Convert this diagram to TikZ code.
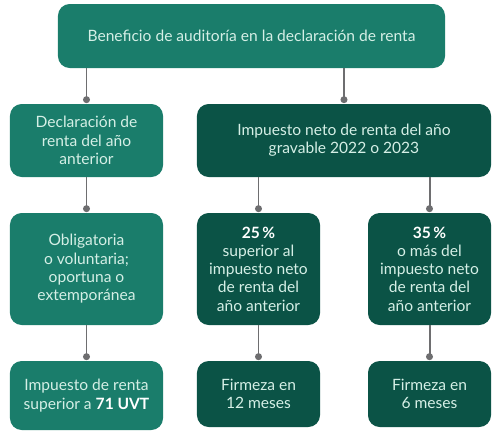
\documentclass[tikz,border=0pt]{standalone}
\usepackage{fontspec}
\setmainfont{Lato}
\definecolor{tealLight}{HTML}{1A7D6B}
\definecolor{tealDark}{HTML}{0B5346}
\definecolor{mint}{HTML}{D5EFE6}
\definecolor{linkGray}{HTML}{6E6E70}

\begin{document}
\begin{tikzpicture}[x=0.03cm, y=-0.03cm,
    box/.style={rounded corners=10pt, align=center, text=mint, inner sep=2pt,
      font=\fontsize{13.3}{15.6}\selectfont},
    light/.style={box, fill=tealLight},
    dark/.style={box, fill=tealDark},
    link/.style={draw=linkGray, line width=1.7pt},
    dot/.style={circle, fill=linkGray, inner sep=0pt, minimum size=6pt}]
  \useasboundingbox (0,0) rectangle (501,442);

  % boxes
  \node[light, minimum width=11.61cm, minimum height=1.92cm] (top) at (251.5,36)
    {Beneficio de auditoría en la declaración de renta};
  \node[light, minimum width=4.59cm, minimum height=2.19cm] (prev) at (86.5,140.5)
    {Declaración de\\renta del año\\anterior};
  \node[dark, minimum width=8.82cm, minimum height=2.19cm] (imp) at (344,140.5)
    {Impuesto neto de renta del año\\gravable 2022 o 2023};
  \node[light, minimum width=4.59cm, minimum height=3.36cm] (oblig) at (86.5,269)
    {Obligatoria\\o voluntaria;\\oportuna o\\extemporánea};
  \node[dark, minimum width=3.69cm, minimum height=3.36cm] (pct25) at (258.5,269)
    {\textcolor{white}{\bfseries 25\,\%}\\superior al\\impuesto neto\\de renta del\\año anterior};
  \node[dark, minimum width=3.69cm, minimum height=3.36cm] (pct35) at (429.5,269)
    {\textcolor{white}{\bfseries 35\,\%}\\o más del\\impuesto neto\\de renta del\\año anterior};
  \node[light, minimum width=4.59cm, minimum height=2.07cm] (uvt) at (86.5,395.5)
    {Impuesto de renta\\superior a \textcolor{white}{\bfseries 71 UVT}};
  \node[dark, minimum width=3.69cm, minimum height=1.98cm] (firm12) at (258.5,394)
    {Firmeza en\\12 meses};
  \node[dark, minimum width=3.69cm, minimum height=1.98cm] (firm6) at (429.5,394)
    {Firmeza en\\6 meses};

  % connectors
  \foreach \a/\b in {top/prev, top/imp, prev/oblig, imp/pct25, imp/pct35,
                     oblig/uvt, pct25/firm12, pct35/firm6}
    \draw[link] (\a.south -| \b.north) -- ([yshift=3.5pt]\b.north)
      node[dot] {};
\end{tikzpicture}
\end{document}
